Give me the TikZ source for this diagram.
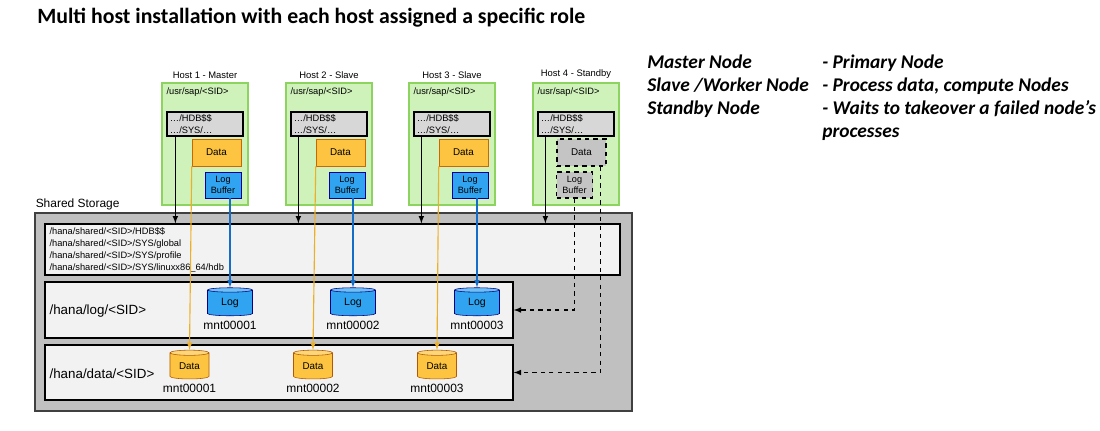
\documentclass[tikz,border=0pt]{standalone}
\usepackage{fontspec}
\setmainfont{Liberation Sans}
\newfontfamily\calib{Carlito}
\usetikzlibrary{calc}
\usetikzlibrary{positioning}
\usetikzlibrary{arrows}
\usetikzlibrary{shapes}
\definecolor{hostgreen}{RGB}{140,212,95}
\definecolor{hostfill}{RGB}{206,242,186}
\definecolor{hdbgray}{RGB}{215,215,215}
\definecolor{dataorange}{RGB}{252,196,64}
\definecolor{orangeline}{RGB}{236,176,40}
\definecolor{logblue}{RGB}{48,164,240}
\definecolor{blueline}{RGB}{20,110,200}
\definecolor{sharedgray}{RGB}{192,192,192}
\definecolor{fsgray}{RGB}{242,242,242}
\definecolor{standbygray}{RGB}{196,196,196}

\begin{document}
\begin{tikzpicture}[x=0.025cm,y=-0.025cm,>=latex,
hostbox/.style={draw=hostgreen,line width=1.6pt,fill=hostfill,minimum width=2.15cm,minimum height=3.05cm,inner sep=0},
hostlabel/.style={font=\fontsize{6.7}{8}\selectfont,inner sep=1pt},
hdbbox/.style={draw=black,line width=0.9pt,fill=hdbgray,minimum width=1.9cm,minimum height=0.6cm,text width=1.75cm,inner xsep=0.075cm,inner ysep=0,align=left,font=\fontsize{6.6}{8}\selectfont},
databox/.style={draw=orange!80!black,fill=dataorange,minimum width=1.225cm,minimum height=0.675cm,inner sep=0,font=\fontsize{7}{8}\selectfont},
bufbox/.style={draw=blue!60!black,fill=logblue,minimum width=0.9cm,minimum height=0.65cm,inner sep=0,align=center,font=\fontsize{6.5}{8}\selectfont},
standby/.style={draw=black,dashed,line width=0.8pt,fill=standbygray},
fsbox/.style={draw=black,line width=0.9pt,fill=fsgray,inner sep=0},
logdisk/.style={cylinder,shape border rotate=90,aspect=0.25,draw=blue!50!black,cylinder uses custom fill,cylinder body fill=logblue,cylinder end fill=logblue!70,minimum width=1.125cm,minimum height=0.7cm,inner sep=0,font=\fontsize{7.5}{9}\selectfont,label={[font=\fontsize{8.5}{10}\selectfont,label distance=0pt]below:#1}},
datadisk/.style={cylinder,shape border rotate=90,aspect=0.25,draw=orange!70!black,cylinder uses custom fill,cylinder body fill=dataorange,cylinder end fill=dataorange!70,minimum width=0.975cm,minimum height=0.72cm,inner sep=0,font=\fontsize{7}{9}\selectfont,label={[font=\fontsize{8.5}{10}\selectfont,label distance=0pt]below:#1}},
blackwire/.style={black,line width=0.8pt},
bluewire/.style={blueline,line width=0.8pt},
orangewire/.style={orangeline,line width=0.8pt},
dashline/.style={black,dashed,line width=0.8pt},
roletext/.style={font=\calib\bfseries\itshape\fontsize{13.8}{16}\selectfont,inner sep=0}]

\useasboundingbox (0,0) rectangle (1100,431);

% title
\node[anchor=west,font=\calib\bfseries\fontsize{15.5}{18}\selectfont,inner sep=0] (title) at (37,18) {Multi host installation with each host assigned a specific role};

% roles
\node[roletext,anchor=base west] (role1) at (647,69) {Master Node};
\node[roletext,anchor=base west] (role2) at (647,92) {Slave /Worker Node};
\node[roletext,anchor=base west] (role3) at (647,115) {Standby Node};
\node[roletext,anchor=base west] (desc1) at (822,69) {- Primary Node};
\node[roletext,anchor=base west] (desc2) at (822,92) {- Process data, compute Nodes};
\node[roletext,anchor=base west] (desc3) at (822,115) {- Waits to takeover a failed node’s};
\node[roletext,anchor=base west] (desc3b) at (822,138) {processes};

% shared storage
\node[fsbox,draw=black!75,line width=1.2pt,fill=sharedgray,minimum width=14.925cm,minimum height=4.95cm] (shared) at (333.5,312) {};
\node[anchor=south west,font=\fontsize{8.5}{10}\selectfont,inner sep=1pt] (sharedlabel) at (shared.north west) {Shared Storage};
\node[fsbox,minimum width=14.375cm,minimum height=1.275cm] (sharedfs) at (332.5,249.5) {};
\node[anchor=north west,align=left,inner sep=0,font=\fontsize{6.6}{8.6}\selectfont] (fslist) at ($(sharedfs.north west)+(5,4)$) {/hana/shared/<SID>/HDB\$\$\\/hana/shared/<SID>/SYS/global\\/hana/shared/<SID>/SYS/profile\\/hana/shared/<SID>/SYS/linuxx86\_64/hdb};
\node[fsbox,minimum width=11.7cm,minimum height=1.4cm] (logfs) at (279,310) {};
\node[anchor=west,font=\fontsize{9.5}{11}\selectfont,inner sep=0] (logpath) at ($(logfs.west)+(5,1)$) {/hana/log/<SID>};
\node[fsbox,minimum width=11.7cm,minimum height=1.375cm] (datafs) at (279,372.5) {};
\node[anchor=west,font=\fontsize{9.5}{11}\selectfont,inner sep=0] (datapath) at ($(datafs.west)+(5,1)$) {/hana/data/<SID>};

% volumes
\node[logdisk=mnt00001] (log1) at (230,303) {Log};
\node[logdisk=mnt00002] (log2) at (353,303) {Log};
\node[logdisk=mnt00003] (log3) at (477,303) {Log};
\node[datadisk=mnt00001] (dat1) at (189.5,366) {Data};
\node[datadisk=mnt00002] (dat2) at (313,366) {Data};
\node[datadisk=mnt00003] (dat3) at (437,366) {Data};

% hosts
\node[hostbox] (host1) at (205,144) {};
\node[hostbox] (host2) at (329,144) {};
\node[hostbox] (host3) at (452,144) {};
\node[hostbox] (host4) at (576,144) {};
\node[hostlabel,above=1pt of host1] (name1) {Host 1 - Master};
\node[hostlabel,above=1pt of host2] (name2) {Host 2 - Slave};
\node[hostlabel,above=1pt of host3] (name3) {Host 3 - Slave};
\node[hostlabel,above=1pt of host4] (name4) {Host 4 - Standby};
\node[hostlabel,anchor=north west,font=\fontsize{6.6}{8}\selectfont] (usr1) at ($(host1.north west)+(4,4)$) {/usr/sap/<SID>};
\node[hostlabel,anchor=north west,font=\fontsize{6.6}{8}\selectfont] (usr2) at ($(host2.north west)+(4,4)$) {/usr/sap/<SID>};
\node[hostlabel,anchor=north west,font=\fontsize{6.6}{8}\selectfont] (usr3) at ($(host3.north west)+(4,4)$) {/usr/sap/<SID>};
\node[hostlabel,anchor=north west,font=\fontsize{6.6}{8}\selectfont] (usr4) at ($(host4.north west)+(4,4)$) {/usr/sap/<SID>};
\node[hdbbox] (hdb1) at (205,124) {…/HDB\$\$\\…/SYS/…};
\node[hdbbox] (hdb2) at (329,124) {…/HDB\$\$\\…/SYS/…};
\node[hdbbox] (hdb3) at (452,124) {…/HDB\$\$\\…/SYS/…};
\node[hdbbox] (hdb4) at (576,124) {…/HDB\$\$\\…/SYS/…};
\node[databox] (data1) at (216.5,152.5) {Data};
\node[databox] (data2) at (340.5,152.5) {Data};
\node[databox] (data3) at (463.5,152.5) {Data};
\node[databox,standby] (data4) at (581.5,152.5) {Data};
\node[bufbox] (buf1) at (223,185) {Log\\Buffer};
\node[bufbox] (buf2) at (347,185) {Log\\Buffer};
\node[bufbox] (buf3) at (470,185) {Log\\Buffer};
\node[bufbox,standby] (buf4) at (574.5,185) {Log\\Buffer};

% connections to shared
\coordinate (t1) at ($(hdb1.south west)+(9,0)$);
\coordinate (t2) at ($(hdb2.south west)+(8,0)$);
\coordinate (t3) at ($(hdb3.south west)+(8,0)$);
\coordinate (t4) at ($(hdb4.south west)+(8,0)$);
\draw[blackwire,->] (t1) -- (t1 |- sharedfs.north);
\draw[blackwire,->] (t2) -- (t2 |- sharedfs.north);
\draw[blackwire,->] (t3) -- (t3 |- sharedfs.north);
\draw[blackwire,->] (t4) -- (t4 |- sharedfs.north);

\draw[bluewire,->] (buf1.south -| log1.north) -- (log1.north);
\draw[bluewire,->] (buf2.south -| log2.north) -- (log2.north);
\draw[bluewire,->] (buf3.south -| log3.north) -- (log3.north);
\draw[orangewire,->] (data1.south west) -- (dat1.north);
\draw[orangewire,->] (data2.south west) -- (dat2.north);
\draw[orangewire,->] (data3.south west) -- (dat3.north);

% standby takeover
\coordinate (d4) at ($(data4.south east)+(-6,0)$);
\draw[dashline,->] (buf4.south) |- (logfs.east);
\draw[dashline,->] (d4) |- (datafs.east);
\end{tikzpicture}
\end{document}
